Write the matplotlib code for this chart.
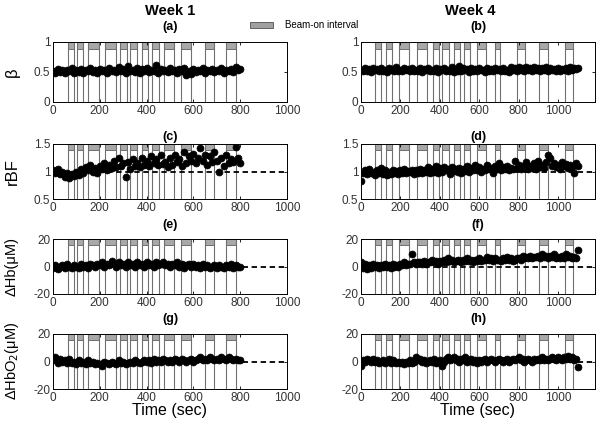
import numpy as np
import matplotlib
matplotlib.use("Agg")
import matplotlib.pyplot as plt
from matplotlib.patches import Rectangle

plt.rcParams["font.family"] = ["Liberation Sans", "DejaVu Sans"]

# time axes (sec)
t_week1 = np.arange(0, 801, 10)
t_week4 = np.arange(0, 1101, 10)

# beam-on intervals (start, end) in sec
beam_week1 = [(62, 90), (103, 130), (148, 195), (222, 270), (288, 315), (330, 360),
              (381, 404), (422, 453), (473, 517), (545, 590), (648, 687), (740, 783)]
beam_week4 = [(71, 103), (125, 156), (191, 242), (286, 334), (364, 397), (413, 448),
              (474, 504), (521, 553), (587, 633), (679, 706), (790, 832), (904, 948),
              (1034, 1078)]

beta_w1 = [0.52, 0.49, 0.55, 0.50, 0.53, 0.48, 0.54, 0.51, 0.56, 0.49,
           0.53, 0.50, 0.55, 0.48, 0.54, 0.52, 0.57, 0.50, 0.53, 0.49,
           0.55, 0.51, 0.54, 0.48, 0.56, 0.52, 0.53, 0.50, 0.58, 0.51,
           0.55, 0.49, 0.60, 0.52, 0.54, 0.50, 0.56, 0.49, 0.55, 0.51,
           0.57, 0.50, 0.54, 0.52, 0.61, 0.49, 0.55, 0.51, 0.53, 0.50,
           0.56, 0.52, 0.54, 0.49, 0.55, 0.51, 0.57, 0.45, 0.52, 0.47,
           0.55, 0.50, 0.53, 0.51, 0.56, 0.49, 0.54, 0.52, 0.55, 0.50,
           0.53, 0.51, 0.56, 0.49, 0.54, 0.52, 0.55, 0.50, 0.58, 0.53, 0.55]
beta_w4 = [0.54, 0.51, 0.56, 0.52, 0.55, 0.50, 0.57, 0.53, 0.55, 0.51,
           0.56, 0.52, 0.54, 0.50, 0.57, 0.53, 0.55, 0.51, 0.58, 0.52,
           0.54, 0.51, 0.56, 0.53, 0.55, 0.52, 0.57, 0.51, 0.54, 0.52,
           0.56, 0.50, 0.55, 0.53, 0.57, 0.51, 0.54, 0.52, 0.56, 0.50,
           0.55, 0.53, 0.57, 0.51, 0.54, 0.52, 0.58, 0.50, 0.55, 0.52,
           0.60, 0.51, 0.56, 0.53, 0.55, 0.50, 0.57, 0.52, 0.55, 0.51,
           0.56, 0.53, 0.54, 0.50, 0.57, 0.52, 0.55, 0.51, 0.56, 0.53,
           0.55, 0.51, 0.57, 0.52, 0.54, 0.50, 0.58, 0.53, 0.56, 0.52,
           0.59, 0.53, 0.57, 0.51, 0.58, 0.54, 0.56, 0.52, 0.59, 0.53,
           0.57, 0.52, 0.56, 0.54, 0.58, 0.52, 0.56, 0.53, 0.55, 0.51,
           0.57, 0.52, 0.55, 0.53, 0.56, 0.52, 0.58, 0.54, 0.57, 0.55, 0.57]

rbf_w1 = [1.02, 0.97, 1.05, 0.95, 1.00, 0.90, 0.98, 0.88, 0.95, 0.92,
          1.00, 0.93, 1.05, 0.98, 1.08, 1.02, 1.12, 1.00, 1.06, 0.98,
          1.10, 1.04, 1.15, 1.02, 1.12, 1.07, 1.20, 1.08, 1.25, 1.10,
          1.15, 0.90, 1.18, 1.05, 1.22, 1.10, 1.16, 1.08, 1.25, 1.12,
          1.20, 1.10, 1.28, 1.15, 1.22, 1.12, 1.30, 1.14, 1.18, 1.08,
          1.25, 1.12, 1.30, 1.18, 1.22, 1.10, 1.35, 1.15, 1.28, 1.20,
          1.32, 1.15, 1.25, 1.42, 1.20, 1.30, 1.12, 1.28, 1.18, 1.35,
          1.20, 1.00, 1.25, 1.10, 1.30, 1.15, 1.22, 1.18, 1.45, 1.25, 1.15]
rbf_w4 = [0.82, 0.98, 1.02, 0.95, 1.05, 0.97, 1.00, 0.94, 1.03, 0.98,
          1.06, 0.96, 1.02, 0.93, 1.00, 0.95, 1.03, 0.97, 1.01, 0.96,
          1.02, 0.98, 1.04, 0.97, 1.01, 0.99, 1.03, 0.96, 1.02, 0.98,
          1.05, 0.97, 1.03, 0.99, 1.08, 0.98, 1.04, 1.00, 1.10, 0.98,
          1.06, 1.00, 1.09, 1.02, 1.05, 0.96, 1.08, 1.01, 1.04, 0.99,
          1.07, 0.97, 1.05, 1.01, 1.10, 1.00, 1.06, 1.02, 1.12, 1.03,
          1.08, 1.00, 1.05, 1.02, 1.12, 1.04, 1.07, 0.98, 1.10, 1.04,
          1.15, 1.03, 1.08, 1.05, 1.10, 1.03, 1.07, 1.05, 1.20, 1.06,
          1.12, 1.04, 1.10, 1.06, 1.18, 1.05, 1.10, 1.07, 1.15, 1.05,
          1.20, 1.08, 1.12, 1.06, 1.18, 1.30, 1.25, 1.10, 1.15, 1.08,
          1.12, 1.05, 1.18, 1.10, 1.14, 1.06, 1.12, 1.08, 0.97, 1.15, 1.10]

hb_w1 = [-1, 1, -2, 0, 1, -1, 2, 0, -1, 1,
         0, -1, 2, 0, 1, -1, 2, 1, 0, 2,
         1, 3, 0, 2, 1, 4, 2, 0, 3, 1,
         2, 0, 3, 1, 2, 0, 3, 1, 2, 0,
         3, 1, 2, 0, 3, 1, 2, 3, 1, 2,
         0, 2, 1, 3, 0, 2, -1, 1, 2, 0,
         2, 0, 1, -1, 2, 0, 1, -1, 0, 1,
         -1, 1, 0, -1, 1, 0, 2, -1, 1, 0, 0]
hb_w4 = [3, -1, 2, -2, 1, -1, 2, 0, 1, -1,
         1, 0, 2, 0, 1, -1, 2, 0, 1, 0,
         2, 1, 3, 1, 2, 2, 9, 3, 2, 3,
         3, 2, 4, 2, 3, 3, 5, 3, 4, 2,
         4, 3, 5, 3, 6, 4, 5, 3, 4, 5,
         4, 3, 5, 4, 6, 4, 5, 3, 5, 4,
         6, 4, 5, 5, 7, 5, 6, 4, 6, 5,
         5, 4, 6, 5, 7, 5, 6, 4, 5, 6,
         6, 5, 8, 6, 7, 6, 8, 6, 7, 7,
         8, 6, 9, 7, 8, 6, 8, 7, 9, 6,
         7, 6, 8, 6, 9, 7, 8, 6, 7, 6, 12]

hbo2_w1 = [1, 3, -1, 2, 0, 1, -1, 2, -1, 0,
           -2, 1, -1, 0, -2, 1, -1, 0, -2, -1,
           -2, -3, 0, -1, -2, 0, -1, -2, 1, -1,
           0, -2, -1, 0, -1, 1, 0, -1, 0, 1,
           0, 1, -1, 2, 0, 1, 0, 2, 1, 0,
           1, 0, 2, 1, 0, 2, 1, 0, 1, 2,
           0, 1, 2, 3, 1, 2, 1, 3, 2, 1,
           2, 1, 3, 2, 1, 3, 2, 1, 2, 1, 1]
hbo2_w4 = [-3, 1, 0, 2, 1, 0, 2, 0, 1, -1,
           0, 1, -1, 0, 2, -1, 1, 0, -1, 0,
           -1, 0, -2, 0, -1, 1, -1, 0, 3, 1,
           2, 0, 1, -1, 0, 1, 0, 2, -1, 0,
           1, -3, 0, 2, 3, 1, 2, 3, 1, 2,
           0, 2, 1, 3, 0, 1, 2, 0, 1, -1,
           1, 0, 1, 2, 0, 1, 2, 1, 0, 1,
           2, 1, 0, 1, 2, 0, 1, 2, 1, 2,
           3, 1, 2, 0, 1, 2, 1, 0, 2, 1,
           2, 1, 3, 1, 2, 1, 2, 3, 2, 1,
           3, 2, 1, 3, 2, 4, 2, 3, 1, 2, -4]

rows = [
    # (week1 data, week4 data, ylim, yticks, ytick labels, baseline, ylabel)
    (beta_w1, beta_w4, (0, 1), [0, 0.5, 1], ["0", "0.5", "1"], None, "β"),
    (rbf_w1, rbf_w4, (0.5, 1.5), [0.5, 1, 1.5], ["0.5", "1", "1.5"], 1, "rBF"),
    (hb_w1, hb_w4, (-20, 20), [-20, 0, 20], ["-20", "0", "20"], 0, "ΔHb(μM)"),
    (hbo2_w1, hbo2_w4, (-20, 20), [-20, 0, 20], ["-20", "0", "20"], 0, "ΔHbO$_2$(μM)"),
]
panel_letters = [("(a)", "(b)"), ("(c)", "(d)"), ("(e)", "(f)"), ("(g)", "(h)")]

W, H = 602, 425
fig = plt.figure(figsize=(W / 100, H / 100), dpi=100)

# axes boxes in pixels: (top, bottom)
row_px = [(42, 102), (144, 199), (239, 294), (334, 389)]
label_px = [27, 137, 225, 319]
ylabel_px = [72, 172, 266, 361]
col_px = [(53, 287), (361, 595)]
xlims = [(0, 1000), (0, 1188)]
beams = [beam_week1, beam_week4]
times = [t_week1, t_week4]

for r, (d1, d4, ylim, yt, ytl, base, ylab) in enumerate(rows):
    top, bot = row_px[r]
    for c, data in enumerate([d1, d4]):
        left, right = col_px[c]
        ax = fig.add_axes([left / W, 1 - bot / H, (right - left) / W, (bot - top) / H])
        ax.set_xlim(*xlims[c])
        ax.set_ylim(*ylim)
        span = ylim[1] - ylim[0]
        for s, e in beams[c]:
            ax.add_patch(Rectangle((s, ylim[1] - 0.11 * span), e - s, 0.11 * span,
                                   facecolor="#a8a8a8", edgecolor="#606060", lw=0.6, zorder=1))
            ax.vlines([s, e], ylim[0], ylim[1], colors="#707070", lw=0.8, zorder=1)
        if base is not None:
            ax.axhline(base, color="k", ls="--", lw=1.3, dashes=(3, 2), zorder=2)
        ax.plot(times[c], data, "o", color="k", ms=5, mew=0.5, zorder=3)
        ax.set_xticks([0, 200, 400, 600, 800, 1000])
        ax.set_yticks(yt)
        ax.set_yticklabels(ytl)
        ax.tick_params(direction="in", top=True, right=True, length=2.5, width=0.6,
                       labelsize=8.5, pad=2, labelcolor="#333333")
        for sp in ax.spines.values():
            sp.set_linewidth(0.7)
        cx = (left + right) / 2
        fig.text(cx / W, 1 - label_px[r] / H, panel_letters[r][c], ha="center",
                 va="center", fontsize=9, fontweight="bold")
        if c == 0:
            fig.text(12 / W, 1 - ylabel_px[r] / H, ylab, ha="center", va="center",
                     rotation=90, fontsize=12 if r < 2 else 10.5)
        if r == 3:
            fig.text(cx / W, 1 - 411 / H, "Time (sec)", ha="center", va="center",
                     fontsize=11.5)

fig.text(170 / W, 1 - 11 / H, "Week 1", ha="center", va="center", fontsize=10.5,
         fontweight="bold")
fig.text(470 / W, 1 - 11 / H, "Week 4", ha="center", va="center", fontsize=10.5,
         fontweight="bold")

# legend for beam-on interval
fig.patches.append(Rectangle((250 / W, 1 - 28 / H), 23 / W, 6 / H, transform=fig.transFigure,
                             facecolor="#a0a0a0", edgecolor="#505050", lw=0.6))
fig.text(285 / W, 1 - 25 / H, "Beam-on interval", ha="left", va="center", fontsize=7)

fig.savefig("out.png", dpi=100)
